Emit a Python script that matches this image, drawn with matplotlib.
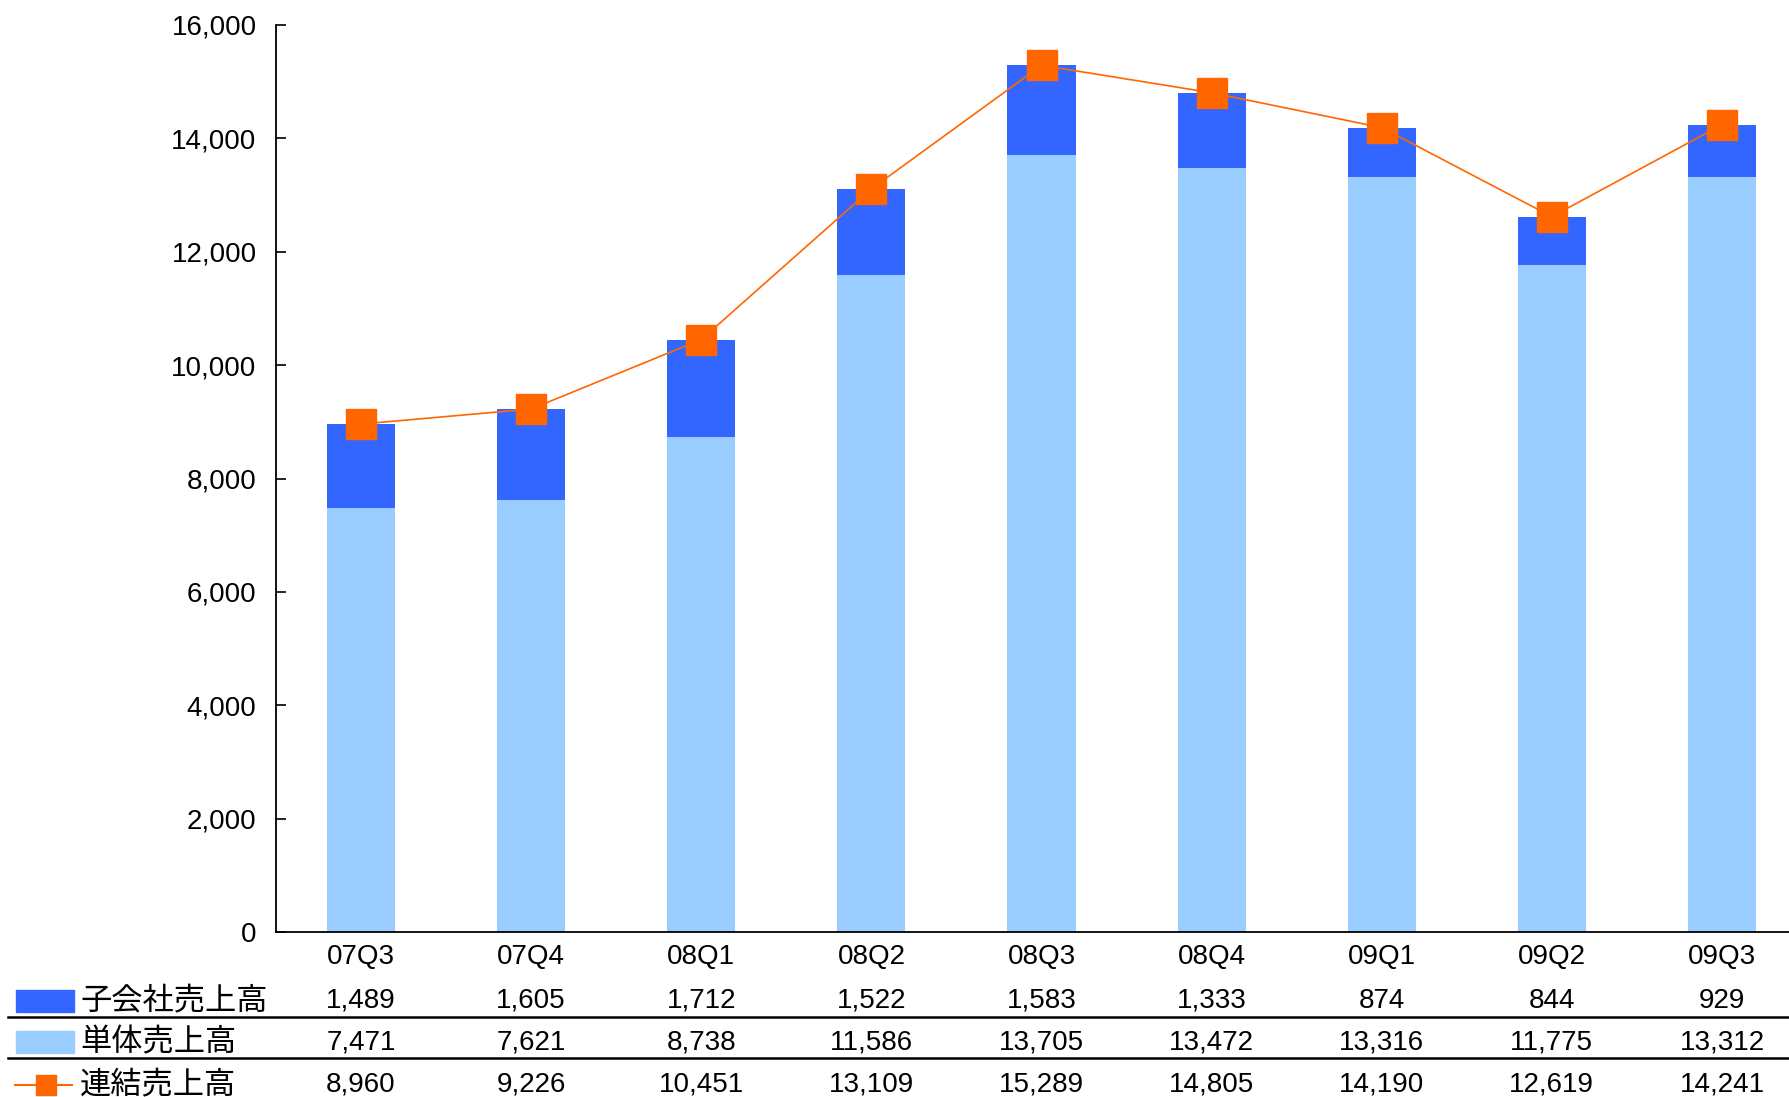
import matplotlib
matplotlib.use("Agg")
import matplotlib.pyplot as plt
from matplotlib import font_manager
from matplotlib.patches import Rectangle
from matplotlib.lines import Line2D
from matplotlib.ticker import FuncFormatter

# データ
quarters = ["07Q3", "07Q4", "08Q1", "08Q2", "08Q3", "08Q4", "09Q1", "09Q2", "09Q3"]
subsidiary = [1489, 1605, 1712, 1522, 1583, 1333, 874, 844, 929]
standalone = [7471, 7621, 8738, 11586, 13705, 13472, 13316, 11775, 13312]
consolidated = [8960, 9226, 10451, 13109, 15289, 14805, 14190, 12619, 14241]
series_names = ["子会社売上高", "単体売上高", "連結売上高"]

names = {f.name for f in font_manager.fontManager.ttflist}
num_font = "Liberation Sans Narrow" if "Liberation Sans Narrow" in names else "Liberation Sans"
plt.rcParams["font.family"] = [num_font, "Noto Sans CJK JP", "DejaVu Sans"]

dark_blue = "#3366FF"
light_blue = "#99CCFF"
orange = "#FF6600"

fig = plt.figure(figsize=(17.89, 10.97), dpi=100)
ax = fig.add_axes([276 / 1789, 1 - 932 / 1097, 1531 / 1789, 907 / 1097])

x = list(range(len(quarters)))
ax.bar(x, standalone, width=0.4, color=light_blue)
ax.bar(x, subsidiary, width=0.4, bottom=standalone, color=dark_blue)
ax.plot(x, consolidated, color=orange, lw=1.2, marker="s", markersize=22,
        markerfacecolor=orange, markeredgecolor=orange)

ax.set_xlim(-0.5, len(quarters) - 0.5)
ax.set_ylim(0, 16000)
ax.set_yticks(range(0, 16001, 2000))
ax.yaxis.set_major_formatter(FuncFormatter(lambda v, p: f"{int(v):,}"))
ax.tick_params(axis="y", direction="in", length=7, width=1.2, labelsize=20, pad=14)
ax.set_xticks([])
for s in ["top", "right"]:
    ax.spines[s].set_visible(False)
ax.spines["left"].set_linewidth(1.3)
ax.spines["bottom"].set_linewidth(1.3)

# データテーブル
trans = ax.get_xaxis_transform()
row_y = [-0.076, -0.1215, -0.1685]
for i, q in enumerate(quarters):
    ax.text(i, -0.0275, q, transform=trans, ha="center", va="center", fontsize=20, clip_on=False)
    for vals, yy in zip([subsidiary, standalone, consolidated], row_y):
        ax.text(i, yy, f"{vals[i]:,}", transform=trans, ha="center", va="center",
                fontsize=20, clip_on=False)

# 行ラベルと凡例
fig_rows = [1 - 1001 / 1097, 1 - 1042 / 1097, 1 - 1085 / 1097]
for name, fy in zip(series_names, fig_rows):
    fig.text(80 / 1789, fy, name, ha="left", va="center", fontsize=22.5,
             family=["Noto Sans CJK JP", "DejaVu Sans"])
kh = 22 / 1097
fig.patches.append(Rectangle((16 / 1789, fig_rows[0] - kh / 2), 58 / 1789, kh,
                             transform=fig.transFigure, color=dark_blue))
fig.patches.append(Rectangle((16 / 1789, fig_rows[1] - kh / 2), 58 / 1789, kh,
                             transform=fig.transFigure, color=light_blue))
fig.lines.append(Line2D([15 / 1789, 72 / 1789], [fig_rows[2], fig_rows[2]],
                        transform=fig.transFigure, color=orange, lw=1.5))
fig.lines.append(Line2D([46 / 1789], [fig_rows[2]], transform=fig.transFigure,
                        marker="s", markersize=15, color=orange))

# 区切り線
for ly in [1 - 1017 / 1097, 1 - 1058 / 1097]:
    fig.lines.append(Line2D([8 / 1789, 1], [ly, ly], transform=fig.transFigure,
                            color="black", lw=1.8))

fig.savefig("out.png", dpi=100)
